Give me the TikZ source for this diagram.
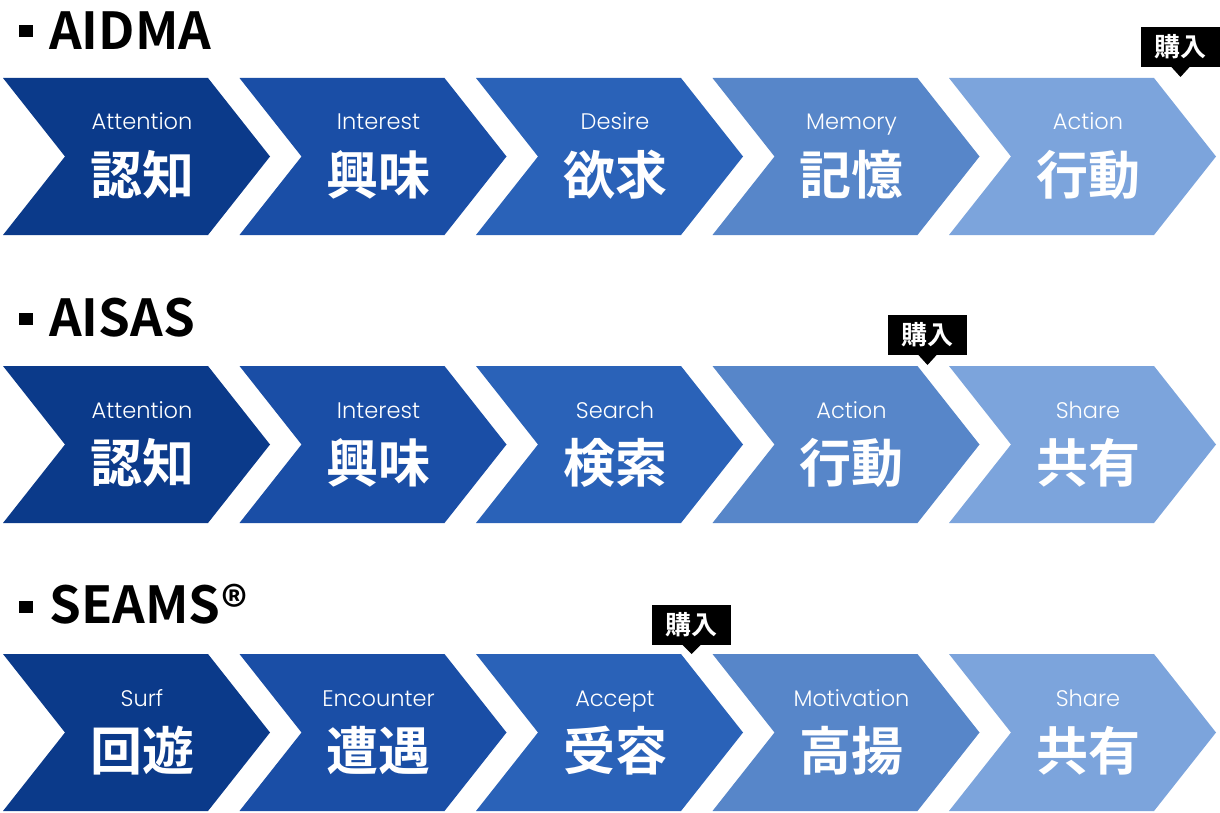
\documentclass[tikz,border=0pt]{standalone}
\usepackage{fontspec}
\setmainfont{Noto Sans CJK JP}[BoldFont={* Bold}]
\newfontfamily\jp{Noto Sans CJK JP}[BoldFont={* Bold}]
\newfontfamily\en{Poppins}[UprightFont={* Light}]
\definecolor{cA}{HTML}{0B3A8A}
\definecolor{cB}{HTML}{1A4EA6}
\definecolor{cC}{HTML}{2A62B8}
\definecolor{cD}{HTML}{5786C9}
\definecolor{cE}{HTML}{7CA4DC}
\tikzset{
  entext/.style={text=white,font=\en\fontsize{22.5}{22.5}\selectfont,inner sep=0pt,anchor=base},
  jptext/.style={text=white,font=\jp\bfseries\fontsize{52}{52}\selectfont,inner sep=0pt,anchor=center},
  titletext/.style={font=\jp\bfseries\fontsize{51}{51}\selectfont,inner sep=0pt,anchor=base west},
  tagbox/.style={fill=black,text=white,font=\jp\bfseries\fontsize{26}{26}\selectfont,minimum width=79pt,minimum height=40pt,inner sep=0pt,anchor=center},
}
\newcommand{\chev}[4]{% x0, top, bottom, colour
  \fill[#4] (#1,#2) -- ++(205,0) -- ({#1+267},{(#2+#3)/2}) -- ({#1+205},#3) -- (#1,#3) -- ({#1+62},{(#2+#3)/2}) -- cycle;}
\newcommand{\stage}[6]{% name, index, top, colour, en, jp
  \pgfmathsetmacro{\xo}{3+236.5*#2}
  \chev{\xo}{#3}{#3+157}{#4}
  \node[entext] (#1e) at ({\xo+139},{#3+52}) {#5};
  \node[jptext] (#1j) at ({\xo+139},{#3+97}) {#6};}
\newcommand{\tagat}[4]{% name, x center, y center, tip y
  \node[tagbox] (#1) at (#2,#3) {購入};
  \fill[black] ({#2-10},{#3+19}) -- ({#2+10},{#3+19}) -- (#2,#4) -- cycle;}
\begin{document}
\begin{tikzpicture}[x=1pt,y=-1pt]
\useasboundingbox (0,0) rectangle (1220,813);
\fill[white] (0,0) rectangle (1220,813);
% titles
\fill[black] (19,25) rectangle (33,37);
\node[titletext] (t1) at (49,50) {AIDMA};
\fill[black] (19,313) rectangle (33,325);
\node[titletext] (t2) at (49,336) {AISAS};
\fill[black] (19,601) rectangle (33,613);
\node[titletext] (t3) at (49,623) {SEAMS\kern1pt\raisebox{-2pt}{®}};
% row 1
\stage{a1}{0}{78}{cA}{Attention}{認知}
\stage{a2}{1}{78}{cB}{Interest}{興味}
\stage{a3}{2}{78}{cC}{Desire}{欲求}
\stage{a4}{3}{78}{cD}{Memory}{記憶}
\stage{a5}{4}{78}{cE}{Action}{行動}
% row 2
\stage{b1}{0}{366}{cA}{Attention}{認知}
\stage{b2}{1}{366}{cB}{Interest}{興味}
\stage{b3}{2}{366}{cC}{Search}{検索}
\stage{b4}{3}{366}{cD}{Action}{行動}
\stage{b5}{4}{366}{cE}{Share}{共有}
% row 3
\stage{c1}{0}{654}{cA}{Surf}{回遊}
\stage{c2}{1}{654}{cB}{Encounter}{遭遇}
\stage{c3}{2}{654}{cC}{Accept}{受容}
\stage{c4}{3}{654}{cD}{Motivation}{高揚}
\stage{c5}{4}{654}{cE}{Share}{共有}
% purchase tags
\tagat{p1}{1180.5}{47}{77}
\tagat{p2}{927.5}{335}{365}
\tagat{p3}{691.5}{625}{654}
\end{tikzpicture}
\end{document}
